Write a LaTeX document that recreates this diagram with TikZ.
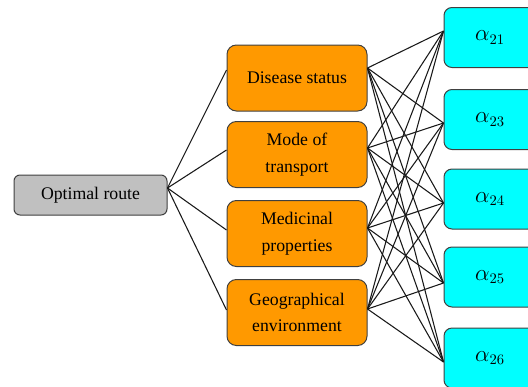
\documentclass[tikz,border=0pt]{standalone}
\usepackage{fontspec}
\setmainfont{Liberation Serif}
\definecolor{rotagris}{HTML}{C0C0C0}
\definecolor{rotalaranja}{HTML}{FF9900}
\definecolor{rotaciano}{HTML}{00FFFF}
\definecolor{rotaborda}{HTML}{404040}
\tikzset{
  caixa/.style={draw=rotaborda, line width=0.75pt, align=center,
    font=\fontsize{13.3}{20}\selectfont, inner sep=0pt},
  caixacinza/.style={caixa, fill=rotagris, rounded corners=4.5pt,
    minimum width=114.75pt, minimum height=30pt},
  caixalaranja/.style={caixa, fill=rotalaranja, rounded corners=7pt,
    minimum width=105pt, minimum height=49.5pt},
  caixaciano/.style={caixa, fill=rotaciano, rounded corners=6pt,
    minimum width=69pt, minimum height=45pt, font=\fontsize{16}{20}\selectfont},
  ligacao/.style={line width=0.8pt, black!90}
}
\begin{document}
\begin{tikzpicture}[x=0.75pt,y=-0.75pt]
\path[use as bounding box, clip] (0,0) rectangle (528,386);
\node[caixacinza] (rota) at (90.5,195) {Optimal route};
\node[caixalaranja] (doenca) at (297,78) {Disease status};
\node[caixalaranja] (transporte) at (297,154.5) {Mode of\\transport};
\node[caixalaranja] (medicinal) at (297,233.5) {Medicinal\\properties};
\node[caixalaranja] (ambiente) at (297,312.5) {Geographical\\environment};
\node[caixaciano] (a21) at (490,37.5) {$\alpha_{21}$};
\node[caixaciano] (a23) at (490,119.5) {$\alpha_{23}$};
\node[caixaciano] (a24) at (490,199) {$\alpha_{24}$};
\node[caixaciano] (a25) at (490,277) {$\alpha_{25}$};
\node[caixaciano] (a26) at (490,358) {$\alpha_{26}$};
\foreach \f/\fy/\fyy in {doenca/70/68, transporte/150/148, medicinal/230/228, ambiente/310/309} {
  \draw[ligacao] (rota.east |- 0,188) -- (\f.west |- 0,\fy);
  \foreach \a/\ay in {a21/31, a23/123, a24/203, a25/283, a26/362}
    \draw[ligacao] (\f.east |- 0,\fyy) -- (\a.west |- 0,\ay);
}
\end{tikzpicture}
\end{document}
